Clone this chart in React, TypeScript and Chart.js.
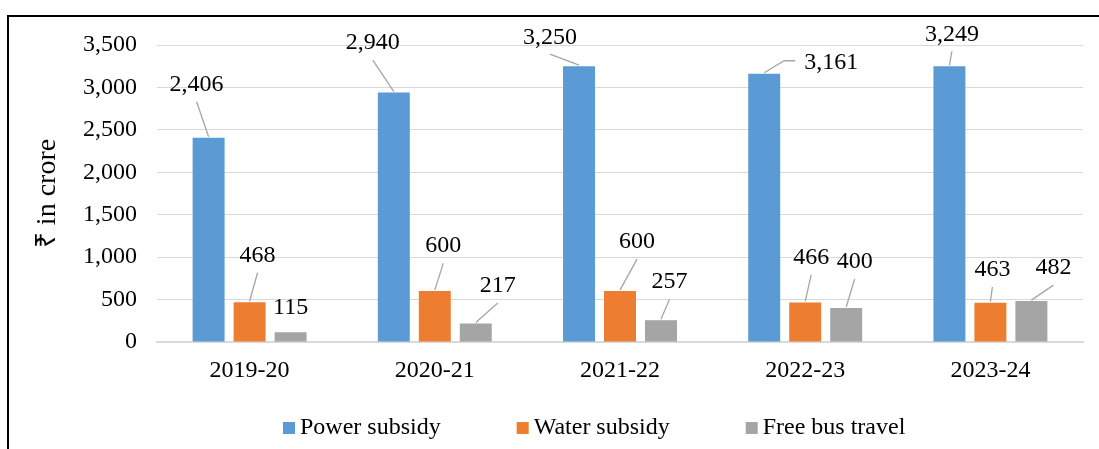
import React, { useEffect, useRef } from "react";
import { Chart, registerables } from "chart.js";

Chart.register(...registerables);

// ---- data ----
const categories = ["2019-20", "2020-21", "2021-22", "2022-23", "2023-24"];
const powerSubsidy = [2406, 2940, 3250, 3161, 3249];
const waterSubsidy = [468, 600, 600, 466, 463];
const freeBusTravel = [115, 217, 257, 400, 482];
const seriesNames = ["Power subsidy", "Water subsidy", "Free bus travel"];
const yAxisTitle = "₹ in crore";
const yMin = 0;
const yMax = 3500;
const yStep = 500;

// ---- styling ----
const seriesColors = ["#5b9bd5", "#ed7d31", "#a5a5a5"];
const FONT = '"Liberation Serif", "Times New Roman", serif';
// label placement: offset (px) of each data label centre from its bar top
const powerLabelOffsets = [[-12, -53], [-21, -49.5], [-29, -29], [67, -11], [2.5, -32]];
const waterLabelOffsets = [[8, -46.5], [8.5, -45], [17, -49], [6, -44.5], [2, -32.7]];
const busLabelOffsets = [[0, -24.5], [22, -37.6], [8.5, -38], [8.5, -46], [22, -33]];
const labelOffsets = [powerLabelOffsets, waterLabelOffsets, busLabelOffsets];

const fmt = (v: number) => v.toLocaleString("en-US");

const dataLabelPlugin = {
  id: "leaderLabels",
  afterDatasetsDraw(chart: any) {
    const ctx = chart.ctx;
    ctx.save();
    ctx.font = `24px ${FONT}`;
    ctx.textAlign = "center";
    ctx.textBaseline = "middle";
    chart.data.datasets.forEach((ds: any, i: number) => {
      const meta = chart.getDatasetMeta(i);
      meta.data.forEach((el: any, j: number) => {
        const [dx, dy] = labelOffsets[i][j];
        const x = el.x;
        const y = el.y;
        const cx = x + dx;
        const cy = y + dy;
        const text = fmt(ds.data[j]);
        const w = ctx.measureText(text).width;
        if (Math.hypot(dx, dy) > 26) {
          ctx.strokeStyle = "#a6a6a6";
          ctx.lineWidth = 1.3;
          ctx.beginPath();
          if (Math.abs(dx) > 40) {
            const sx = cx - w / 2 - 9;
            ctx.moveTo(sx, cy - 2);
            ctx.lineTo(sx - 11, cy - 2);
            ctx.lineTo(x, y - 1);
          } else {
            ctx.moveTo(cx, cy + 17);
            ctx.lineTo(x, y - 1);
          }
          ctx.stroke();
        }
        ctx.fillStyle = "#000000";
        ctx.fillText(text, cx, cy);
      });
    });
    ctx.restore();
  },
};

const legendAndFramePlugin = {
  id: "legendAndFrame",
  afterDraw(chart: any) {
    const ctx = chart.ctx;
    const area = chart.chartArea;
    ctx.save();
    // frame
    ctx.fillStyle = "#000000";
    ctx.fillRect(7, 15, 2, chart.height);
    ctx.fillRect(7, 15, chart.width, 2);
    // legend
    ctx.font = `24px ${FONT}`;
    ctx.textAlign = "left";
    ctx.textBaseline = "middle";
    const yc = area.bottom + 86;
    let x = area.left + 126;
    seriesNames.forEach((name, i) => {
      ctx.fillStyle = seriesColors[i];
      ctx.fillRect(x, yc - 6, 12, 12);
      x += 12 + 5;
      ctx.fillStyle = "#000000";
      ctx.fillText(name, x, yc);
      x += ctx.measureText(name).width + 76;
    });
    ctx.restore();
  },
};

export default function App() {
  const canvasRef = useRef<HTMLCanvasElement | null>(null);

  useEffect(() => {
    if (!canvasRef.current) return;
    const series = [powerSubsidy, waterSubsidy, freeBusTravel];
    const chart = new Chart(canvasRef.current, {
      type: "bar",
      data: {
        labels: categories,
        datasets: series.map((d, i) => ({
          label: seriesNames[i],
          data: d,
          backgroundColor: seriesColors[i],
          borderWidth: 0,
          categoryPercentage: 0.664,
          barPercentage: 0.78,
        })),
      },
      options: {
        responsive: false,
        animation: false,
        events: [],
        layout: { padding: { top: 45, right: 16, left: 0, bottom: 0 } },
        plugins: {
          legend: { display: false },
          tooltip: { enabled: false },
          title: { display: false },
        },
        scales: {
          x: {
            grid: { display: false, drawTicks: false },
            border: { display: true, color: "#d9d9d9", width: 2 },
            ticks: {
              color: "#000000",
              padding: 14,
              font: { family: FONT, size: 24 },
            },
            afterFit: (scale: any) => {
              scale.height = 107;
            },
          },
          y: {
            min: yMin,
            max: yMax,
            grid: { color: "#d9d9d9", lineWidth: 1, drawTicks: false },
            border: { display: false },
            ticks: {
              stepSize: yStep,
              color: "#000000",
              padding: 20,
              font: { family: FONT, size: 24 },
              callback: (v: any) => fmt(Number(v)),
            },
            title: {
              display: true,
              text: yAxisTitle,
              color: "#000000",
              font: { family: FONT, size: 28 },
              padding: { top: 31, bottom: 0 },
            },
            afterFit: (scale: any) => {
              scale.width = 157;
            },
          },
        },
      },
      plugins: [dataLabelPlugin, legendAndFramePlugin],
    });
    return () => chart.destroy();
  }, []);

  return (
    <div style={{ position: "absolute", left: 0, top: 0, width: 1099, height: 449, background: "#ffffff" }}>
      <canvas ref={canvasRef} width={1099} height={449} style={{ display: "block" }} />
    </div>
  );
}
